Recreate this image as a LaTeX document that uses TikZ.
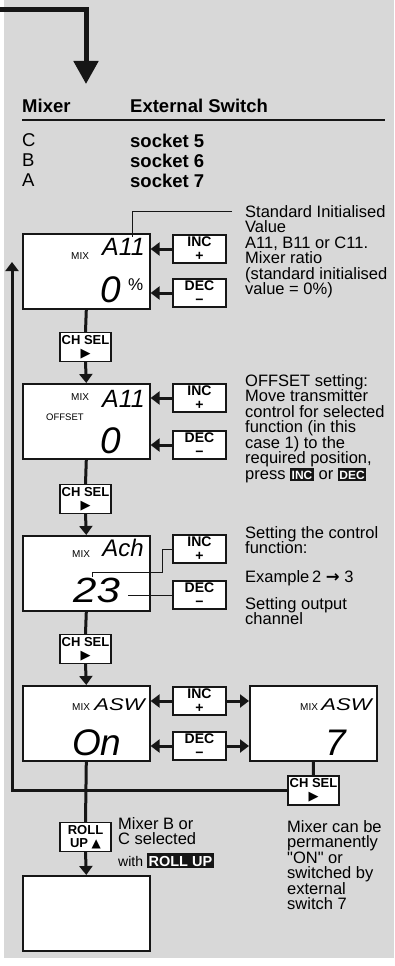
\documentclass[tikz,border=0pt]{standalone}
\usepackage{fontspec}
\setmainfont{Liberation Sans}[Ligatures=TeXOff]
\newfontfamily\symfont{DejaVu Sans}
\usetikzlibrary{arrows.meta,positioning}
\definecolor{inkBlack}{RGB}{22, 22, 22}
\definecolor{paperGrey}{RGB}{216, 216, 216}
\newcommand{\lcd}[1]{\fontsize{#1}{#1}\selectfont\itshape}
\newcommand{\invkey}[2]{{\setlength{\fboxsep}{1.6pt}\colorbox{inkBlack}{\textcolor{white}{\bfseries\fontsize{#1}{#1}\selectfont\rule{0pt}{0.8em}#2}}}}

\begin{document}
\begin{tikzpicture}[x=1pt,y=-1pt,
    lcd/.style={draw=inkBlack, fill=white, line width=1.6pt, minimum width=127pt, minimum height=75pt, inner sep=0pt, anchor=north west},
    key/.style={draw=inkBlack, fill=white, line width=1.2pt, minimum width=53pt, minimum height=28pt, inner sep=1pt, align=center, font=\bfseries\fontsize{14}{14}\selectfont},
    selkey/.style={key, minimum width=51pt, minimum height=29pt, font=\bfseries\fontsize{13}{13}\selectfont},
    note/.style={anchor=north west, inner sep=0pt, align=left, font=\fontsize{16.5}{15.5}\selectfont},
    head/.style={anchor=north west, inner sep=0pt, font=\fontsize{18.5}{20}\selectfont},
    tiny/.style={anchor=base west, inner sep=0pt, font=\fontsize{10}{10}\selectfont},
    link/.style={draw=inkBlack, line width=3pt},
    conn/.style={link, -{Triangle[length=9pt,width=13pt]}},
    lead/.style={draw=inkBlack, line width=0.9pt}]

  \useasboundingbox (0,0) rectangle (394,966);
  \fill[paperGrey] (4,0) rectangle (394,958);

  % entry arrow
  \coordinate (entry) at (0,10);
  \coordinate (drop) at (86,84);
  \draw[draw=inkBlack, line width=5pt, -{Triangle[length=23pt,width=24pt]}] (entry) -| (drop);

  % socket table
  \node[head, font=\bfseries\fontsize{18.5}{20}\selectfont] (hMix) at (22,99) {Mixer};
  \node[head, font=\bfseries\fontsize{18.5}{20}\selectfont] (hSwitch) at (130,99) {External Switch};
  \draw[inkBlack, line width=1.5pt] (22,120) -- (385,120);
  \node[head] (mixC) at (22,133.5) {C};
  \node[head, font=\bfseries\fontsize{18.5}{20}\selectfont] (sockC) at (130,133.5) {socket 5};
  \node[head] (mixB) at (22,153.5) {B};
  \node[head, font=\bfseries\fontsize{18.5}{20}\selectfont] (sockB) at (130,153.5) {socket 6};
  \node[head] (mixA) at (22,173.5) {A};
  \node[head, font=\bfseries\fontsize{18.5}{20}\selectfont] (sockA) at (130,173.5) {socket 7};

  % step 1: mixer ratio
  \node[lcd] (lcdA) at (22,233) {};
  \node[tiny] (mixA1) at (71,259) {MIX};
  \node[anchor=base east, inner sep=0pt, font=\lcd{25}] (valA1) at (145,255) {A11};
  \node[anchor=base west, inner sep=0pt, font=\lcd{37}] (valA2) at (100,302) {0};
  \node[anchor=base west, inner sep=0pt, font=\fontsize{17}{17}\selectfont] (pctA) at (128,290) {\%};
  \node[key] (incA) at (199.5,249) {INC\\+};
  \node[key] (decA) at (199.5,293) {DEC\\−};
  \draw[conn] (incA.west) -- (incA.west -| lcdA.east);
  \draw[conn] (decA.west) -- (decA.west -| lcdA.east);
  \node[note] (noteA) at (245,205) {Standard Initialised\\Value\\A11, B11 or C11.\\Mixer ratio\\(standard initialised\\value = 0\%)};
  \coordinate (leadA) at (132,237);
  \draw[lead] ([xshift=-13pt]noteA.north west |- 0,211) -| (leadA);

  \node[selkey] (selA) at (85.5,347) {CH SEL\\{\symfont\fontsize{13}{13}\selectfont ▶}};
  \draw[link] (lcdA.south) -- (selA.north);

  % step 2: offset
  \node[lcd] (lcdB) at (22,383) {};
  \draw[conn] (selA.south) -- (lcdB.north);
  \node[tiny] (mixB1) at (71,400) {MIX};
  \node[tiny, font=\fontsize{9.5}{9.5}\selectfont] (offB) at (46,420) {OFFSET};
  \node[anchor=base east, inner sep=0pt, font=\lcd{25}] (valB1) at (145,407) {A11};
  \node[anchor=base west, inner sep=0pt, font=\lcd{37}] (valB2) at (100,453) {0};
  \node[key] (incB) at (199.5,398) {INC\\+};
  \node[key] (decB) at (199.5,445) {DEC\\−};
  \draw[conn] (incB.west) -- (incB.west -| lcdB.east);
  \draw[conn] (decB.west) -- (decB.west -| lcdB.east);
  \node[note] (noteB) at (245,374) {OFFSET setting:\\Move transmitter\\control for selected\\function (in this\\case 1) to the\\required position,\\press \invkey{12}{INC} or \invkey{12}{DEC}};

  \node[selkey] (selB) at (85.5,499) {CH SEL\\{\symfont\fontsize{13}{13}\selectfont ▶}};
  \draw[link] (lcdB.south) -- (selB.north);

  % step 3: control function
  \node[lcd] (lcdC) at (22,535) {};
  \draw[conn] (selB.south) -- (lcdC.north);
  \node[tiny] (mixC1) at (72,557) {MIX};
  \node[anchor=base east, inner sep=0pt, font=\lcd{24}] (valC1) at (144,556) {Ach};
  \node[anchor=base west, inner sep=0pt, font=\lcd{35}] (valC2) at (73,602) {\scalebox{1.2}[1]{23}};
  \node[key] (incC) at (199.5,549) {INC\\+};
  \node[key] (decC) at (199.5,595) {DEC\\−};
  \coordinate (digTwo) at (92,577);
  \coordinate (digThree) at (128,595);
  \draw[lead] (incC.west) -- ++(-10,0) -- ++(0,23) -| (digTwo);
  \draw[lead] (digThree) -- (decC.west);
  \node[note] (noteC) at (245,526) {Setting the control\\function:};
  \node[note] (noteC2) at (245,570) {Example\,2 {\symfont\bfseries →} 3};
  \node[note] (noteC3) at (245,597) {Setting output\\channel};

  \node[selkey] (selC) at (85.5,649) {CH SEL\\{\symfont\fontsize{13}{13}\selectfont ▶}};
  \draw[link] (lcdC.south) -- (selC.north);

  % step 4: external switch
  \node[lcd] (lcdD) at (22,685) {};
  \draw[conn] (selC.south) -- (lcdD.north);
  \node[tiny] (mixD1) at (72,710) {MIX};
  \node[anchor=base east, inner sep=0pt, font=\lcd{17}] (valD1) at (145,710) {\scalebox{1.3}[1]{ASW}};
  \node[anchor=base west, inner sep=0pt, font=\lcd{37}] (valD2) at (72,755) {On};
  \node[lcd] (lcdE) at (249,685) {};
  \node[tiny] (mixE1) at (300,710) {MIX};
  \node[anchor=base east, inner sep=0pt, font=\lcd{17}] (valE1) at (372,710) {\scalebox{1.3}[1]{ASW}};
  \node[anchor=base west, inner sep=0pt, font=\lcd{37}] (valE2) at (325,755) {7};
  \node[key] (incD) at (199.5,701) {INC\\+};
  \node[key] (decD) at (199.5,746) {DEC\\−};
  \draw[conn] (incD.west) -- (incD.west -| lcdD.east);
  \draw[conn] (decD.west) -- (decD.west -| lcdD.east);
  \draw[conn] (incD.east) -- (incD.east -| lcdE.west);
  \draw[conn] (decD.east) -- (decD.east -| lcdE.west);

  \node[selkey] (selD) at (313.5,790.5) {CH SEL\\{\symfont\fontsize{13}{13}\selectfont ▶}};
  \draw[link] (lcdE.south) -- (selD.north);
  \coordinate (loopTop) at (12,262);
  \draw[conn] (selD.west) -| (loopTop);
  \node[note] (noteD) at (287,820) {Mixer can be\\permanently\\"ON" or\\switched by\\external\\switch 7};

  % next mixer
  \node[selkey] (rollUp) at (85.5,837) {ROLL\\UP {\symfont\fontsize{12}{12}\selectfont ▲}};
  \draw[link] (lcdD.south) -- (rollUp.north);
  \node[lcd] (lcdF) at (22,875) {};
  \draw[conn] (rollUp.south) -- (lcdF.north);
  \node[note] (noteE) at (118,817) {Mixer B or\\C selected};
  \node[anchor=base west, inner sep=0pt, font=\fontsize{14}{14}\selectfont] (noteE2) at (118,866) {with \invkey{14.5}{ROLL UP}};
\end{tikzpicture}
\end{document}
